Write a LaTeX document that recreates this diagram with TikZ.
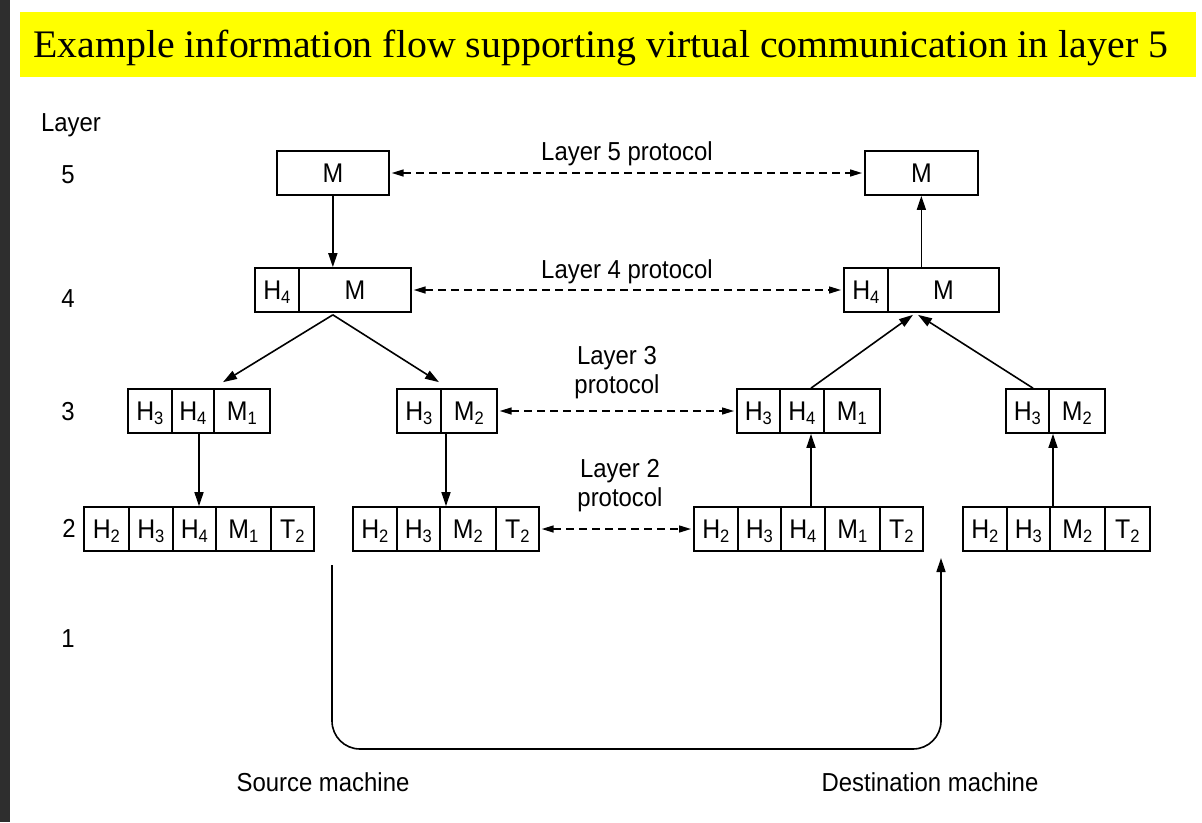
\documentclass[tikz,border=0pt]{standalone}
\usepackage{fontspec}
\usepackage{graphicx}
\setmainfont{Liberation Serif}
\newfontfamily\lsans[FakeStretch=0.92]{Liberation Sans}
\usetikzlibrary{arrows.meta,calc}
\newcommand{\lsb}[1]{\raisebox{-4pt}{\fontsize{18}{18}\selectfont #1}}
\definecolor{stripgray}{HTML}{2E2E2E}
\definecolor{titleyellow}{HTML}{FFFF00}
\begin{document}
\begin{tikzpicture}[x=1pt,y=-1pt,
  cell/.style={draw=black, line width=1.7pt, minimum height=44pt, inner sep=0pt,
    anchor=west, text height=19pt, text depth=0pt,
    font=\lsans\fontsize{27}{27}\selectfont},
  lbl/.style={inner sep=0pt, text height=18.6pt, text depth=0pt,
    font=\lsans\fontsize{26}{26}\selectfont},
  lbl2/.style={inner sep=0pt, align=center,
    font=\lsans\fontsize{26}{29}\selectfont},
  arr/.style={line width=1.6pt, -{Triangle[length=14pt,width=9pt]}},
  darr/.style={line width=1.5pt, dash pattern=on 8pt off 5pt,
    {Triangle[length=12pt,width=7pt]}-{Triangle[length=12pt,width=7pt]},
    shorten <=2pt, shorten >=2pt}
]
\useasboundingbox (0,0) rectangle (1202,822);
\fill[white] (0,0) rectangle (1202,822);
\fill[stripgray] (0,0) rectangle (10,822);
\fill[titleyellow] (20,12) rectangle (1196,77);
\node[anchor=base west, inner sep=0pt] (title) at (33,57)
  {\fontsize{39}{39}\selectfont\resizebox{1135pt}{\height}{Example information flow supporting virtual communication in layer 5}};

% left layer labels
\node[lbl] (lay) at (71,122) {Layer};
\node[lbl] (n5) at (68,174) {5};
\node[lbl] (n4) at (68,298) {4};
\node[lbl] (n3) at (68,411) {3};
\node[lbl] (n2) at (69,528) {2};
\node[lbl] (n1) at (68,638) {1};

% layer 5
\node[cell, minimum width=112pt] (s5) at (276,173) {M};
\node[cell, minimum width=113pt] (d5) at (864,173) {M};
% layer 4
\node[cell, minimum width=44pt] (s4h) at (254,290) {H\lsb{4}};
\node[cell, minimum width=112pt] (s4m) at (298,290) {M};
\node[cell, minimum width=44pt] (d4h) at (843,290) {H\lsb{4}};
\node[cell, minimum width=111pt] (d4m) at (887,290) {M};
% layer 3
\node[cell, minimum width=44pt] (s3aH3) at (127,411) {H\lsb{3}};
\node[cell, minimum width=42pt] (s3aH4) at (171,411) {H\lsb{4}};
\node[cell, minimum width=56pt] (s3aM) at (213,411) {M\lsb{1}};
\node[cell, minimum width=44pt] (s3bH3) at (396,411) {H\lsb{3}};
\node[cell, minimum width=56pt] (s3bM) at (440,411) {M\lsb{2}};
\node[cell, minimum width=43pt] (d3aH3) at (736,411) {H\lsb{3}};
\node[cell, minimum width=44pt] (d3aH4) at (779,411) {H\lsb{4}};
\node[cell, minimum width=56pt] (d3aM) at (823,411) {M\lsb{1}};
\node[cell, minimum width=43pt] (d3bH3) at (1005,411) {H\lsb{3}};
\node[cell, minimum width=56pt] (d3bM) at (1048,411) {M\lsb{2}};
% layer 2
\node[cell, minimum width=45pt] (s2aH2) at (83,529) {H\lsb{2}};
\node[cell, minimum width=44pt] (s2aH3) at (128,529) {H\lsb{3}};
\node[cell, minimum width=43pt] (s2aH4) at (172,529) {H\lsb{4}};
\node[cell, minimum width=55pt] (s2aM) at (215,529) {M\lsb{1}};
\node[cell, minimum width=43pt] (s2aT) at (270,529) {T\lsb{2}};
\node[cell, minimum width=44pt] (s2bH2) at (352,529) {H\lsb{2}};
\node[cell, minimum width=43pt] (s2bH3) at (396,529) {H\lsb{3}};
\node[cell, minimum width=56pt] (s2bM) at (439,529) {M\lsb{2}};
\node[cell, minimum width=43pt] (s2bT) at (495,529) {T\lsb{2}};
\node[cell, minimum width=44pt] (d2aH2) at (693,529) {H\lsb{2}};
\node[cell, minimum width=43pt] (d2aH3) at (737,529) {H\lsb{3}};
\node[cell, minimum width=44pt] (d2aH4) at (780,529) {H\lsb{4}};
\node[cell, minimum width=55pt] (d2aM) at (824,529) {M\lsb{1}};
\node[cell, minimum width=43pt] (d2aT) at (879,529) {T\lsb{2}};
\node[cell, minimum width=44pt] (d2bH2) at (962,529) {H\lsb{2}};
\node[cell, minimum width=43pt] (d2bH3) at (1006,529) {H\lsb{3}};
\node[cell, minimum width=55pt] (d2bM) at (1049,529) {M\lsb{2}};
\node[cell, minimum width=45pt] (d2bT) at (1104,529) {T\lsb{2}};

% protocol labels
\node[lbl] (p5) at (627,151) {Layer 5 protocol};
\node[lbl] (p4) at (627,269) {Layer 4 protocol};
\node[lbl2] (p3) at (617,373) {Layer 3\\protocol};
\node[lbl2] (p2) at (620,486) {Layer 2\\protocol};

% peer (dashed) arrows
\draw[darr] (s5.east) -- (d5.west);
\draw[darr] (s4m.east) -- (d4h.west);
\draw[darr] (s3bM.east) -- (d3aH3.west);
\draw[darr] (s2bT.east) -- (d2aH2.west);

% helper coordinates
\coordinate (sapex) at ($(s5.south |- s4m.south)+(0,2)$);
\coordinate (sa3t) at ($(s3aM.north west)+(10,-6)$);
\coordinate (sb3t) at ($(s3bM.north west)+(-1,-6)$);
\coordinate (sa3b) at ($(s3aH4.south west)+(28,0)$);
\coordinate (sa2t) at ($(s2aH4.north west)+(27,0)$);
\coordinate (sb3b) at ($(s3bM.south west)+(6,0)$);
\coordinate (sb2t) at ($(s2bM.north west)+(7,0)$);
\coordinate (da2t) at ($(d2aH4.north west)+(31,0)$);
\coordinate (da3b) at ($(d3aH4.south west)+(32,0)$);
\coordinate (db2t) at ($(d2bM.north west)+(4,0)$);
\coordinate (db3b) at ($(d3bM.south west)+(5,0)$);
\coordinate (da3t) at ($(d3aH4.north west)+(32,0)$);
\coordinate (db3t) at ($(d3bH3.north west)+(28,0)$);
\coordinate (d4a) at ($(d4m.south west)+(26,2)$);
\coordinate (d4b) at ($(d4m.south west)+(31,2)$);

% source side
\draw[arr] (s5.south) -- (s5.south |- s4m.north);
\draw[arr] (sapex) -- (sa3t);
\draw[arr] (sapex) -- (sb3t);
\draw[arr] (sa3b) -- (sa2t);
\draw[arr] (sb3b) -- (sb2t);

% destination side
\draw[arr] (da2t) -- (da3b);
\draw[arr] (db2t) -- (db3b);
\draw[arr] (da3t) -- (d4a);
\draw[arr] (db3t) -- (d4b);
\draw[arr] (d4m.north -| d5.south) -- (d5.south);

% physical medium
\coordinate (bs) at (332,565);
\coordinate (bb) at (636,749);
\coordinate (be) at (941,558);
\draw[arr, rounded corners=28pt] (bs) |- (bb) -| (be);

\node[lbl] (src) at (323,782) {Source machine};
\node[lbl] (dst) at (930,782) {Destination machine};
\end{tikzpicture}
\end{document}
